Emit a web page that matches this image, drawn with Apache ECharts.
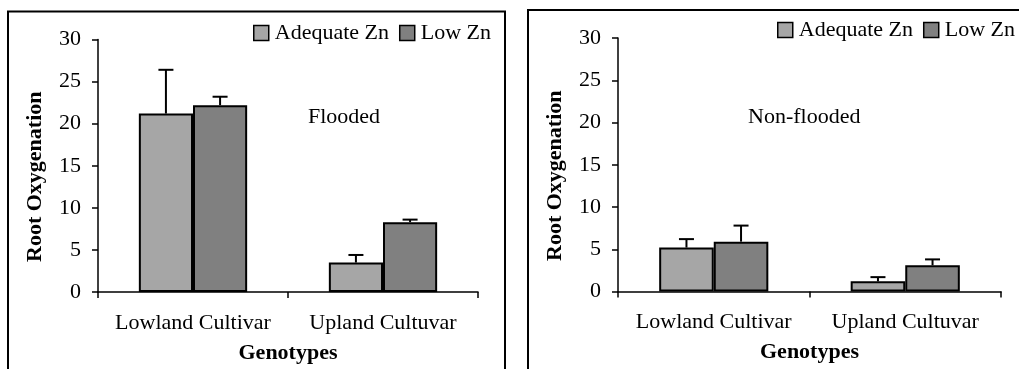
<!DOCTYPE html>
<html>
<head>
<meta charset="utf-8">
<script src="https://cdn.jsdelivr.net/npm/echarts@6/dist/echarts.min.js"></script>
<style>
html,body{margin:0;padding:0;background:#fff;}
#chart{width:1019px;height:369px;}
</style>
</head>
<body>
<div id="chart"></div>
<script>
// ---- data ----
var categories = ['Lowland Cultivar', 'Upland Cultuvar'];
var seriesNames = ['Adequate Zn', 'Low Zn'];
var yTicks = [0, 5, 10, 15, 20, 25, 30];
// Flooded panel
var floodedAdequate = [21.2, 3.5];
var floodedAdequateErr = [5.2, 0.9];
var floodedLow = [22.2, 8.3];
var floodedLowErr = [1.0, 0.3];
// Non-flooded panel
var nonFloodedAdequate = [5.2, 1.2];
var nonFloodedAdequateErr = [1.0, 0.5];
var nonFloodedLow = [5.9, 3.1];
var nonFloodedLowErr = [1.9, 0.7];
var panelTitles = ['Flooded', 'Non-flooded'];

var FONT = '"Liberation Serif", "DejaVu Serif", serif';
var colAdequate = '#a6a6a6';
var colLow = '#808080';
var GAP = 0.43;

function errorSeries(gridIdx, vals, errs, side) {
  var data = vals.map(function (v, i) { return [i, v, v + errs[i]]; });
  return {
    type: 'custom',
    xAxisIndex: gridIdx, yAxisIndex: gridIdx,
    z: 5,
    silent: true,
    data: data,
    encode: { x: 0, y: [1, 2] },
    renderItem: function (params, api) {
      var ci = api.value(0);
      var band = api.size([1, 0])[0];
      var barW = band * (1 - GAP) / 2;
      var top = api.coord([ci, api.value(1)]);
      var hi = api.coord([ci, api.value(2)]);
      var x = top[0] + side * barW / 2;
      var cap = 7.5;
      var st = { stroke: '#000', lineWidth: 2 };
      return {
        type: 'group',
        children: [
          { type: 'line', shape: { x1: x, y1: top[1], x2: x, y2: hi[1] }, style: st },
          { type: 'line', shape: { x1: x - cap, y1: hi[1], x2: x + cap, y2: hi[1] }, style: st }
        ]
      };
    }
  };
}

function xAxisDef(gridIdx) {
  return {
    type: 'category', gridIndex: gridIdx, data: categories,
    axisLine: { lineStyle: { color: '#000', width: 1.5 } },
    axisTick: { show: true, length: 6, lineStyle: { color: '#000', width: 1.5 } },
    axisLabel: { color: '#000', fontFamily: FONT, fontSize: 22, margin: 20, interval: 0 },
    name: 'Genotypes', nameLocation: 'middle', nameGap: 50,
    nameTextStyle: { color: '#000', fontFamily: FONT, fontSize: 22, fontWeight: 'bold' }
  };
}
function yAxisDef(gridIdx) {
  return {
    type: 'value', gridIndex: gridIdx, min: yTicks[0], max: yTicks[yTicks.length - 1], interval: 5,
    axisLine: { show: true, lineStyle: { color: '#000', width: 1.5 } },
    axisTick: { show: true, length: 6, lineStyle: { color: '#000', width: 1.5 } },
    splitLine: { show: false },
    axisLabel: { color: '#000', fontFamily: FONT, fontSize: 22, margin: 17 },
    name: 'Root Oxygenation', nameLocation: 'middle', nameGap: 52,
    nameTextStyle: { color: '#000', fontFamily: FONT, fontSize: 22, fontWeight: 'bold', padding: [0, 22, 0, 0] }
  };
}
function barSeries(gridIdx, name, vals, color) {
  return {
    type: 'bar', name: name, xAxisIndex: gridIdx, yAxisIndex: gridIdx,
    data: vals, barGap: '0%', barCategoryGap: (GAP * 100) + '%',
    itemStyle: { color: color, borderColor: '#000', borderWidth: 2 },
    silent: true, z: 3
  };
}
function legendDef(left, top) {
  return {
    data: seriesNames, left: left, top: top, orient: 'horizontal',
    width: 400, padding: 0,
    itemWidth: 15, itemHeight: 15, itemGap: 10, icon: 'rect',
    itemStyle: { borderColor: '#000', borderWidth: 1.5 },
    textStyle: { color: '#000', fontFamily: FONT, fontSize: 22, padding: [0, 0, 0, 1] },
    selectedMode: false
  };
}

var chart = echarts.init(document.getElementById('chart'), null, { renderer: 'canvas' });
chart.setOption({
  animation: false,
  backgroundColor: '#fff',
  grid: [
    { left: 98, right: 541, top: 39.5, bottom: 76 },
    { left: 618, right: 18, top: 38, bottom: 77.5 }
  ],
  xAxis: [xAxisDef(0), xAxisDef(1)],
  yAxis: [yAxisDef(0), yAxisDef(1)],
  legend: [legendDef(253, 22), legendDef(777, 19)],
  series: [
    barSeries(0, seriesNames[0], floodedAdequate, colAdequate),
    barSeries(0, seriesNames[1], floodedLow, colLow),
    barSeries(1, seriesNames[0], nonFloodedAdequate, colAdequate),
    barSeries(1, seriesNames[1], nonFloodedLow, colLow),
    errorSeries(0, floodedAdequate, floodedAdequateErr, -1),
    errorSeries(0, floodedLow, floodedLowErr, 1),
    errorSeries(1, nonFloodedAdequate, nonFloodedAdequateErr, -1),
    errorSeries(1, nonFloodedLow, nonFloodedLowErr, 1)
  ],
  graphic: [
    { type: 'rect', shape: { x: 8, y: 11.5, width: 497, height: 400 }, style: { fill: null, stroke: '#000', lineWidth: 2 }, silent: true },
    { type: 'rect', shape: { x: 528, y: 10, width: 520, height: 400 }, style: { fill: null, stroke: '#000', lineWidth: 2 }, silent: true },
    { type: 'text', left: 308, top: 106, style: { text: panelTitles[0], fill: '#000', font: '22px ' + FONT } },
    { type: 'text', left: 748, top: 106, style: { text: panelTitles[1], fill: '#000', font: '22px ' + FONT } }
  ]
});
</script>
</body>
</html>
